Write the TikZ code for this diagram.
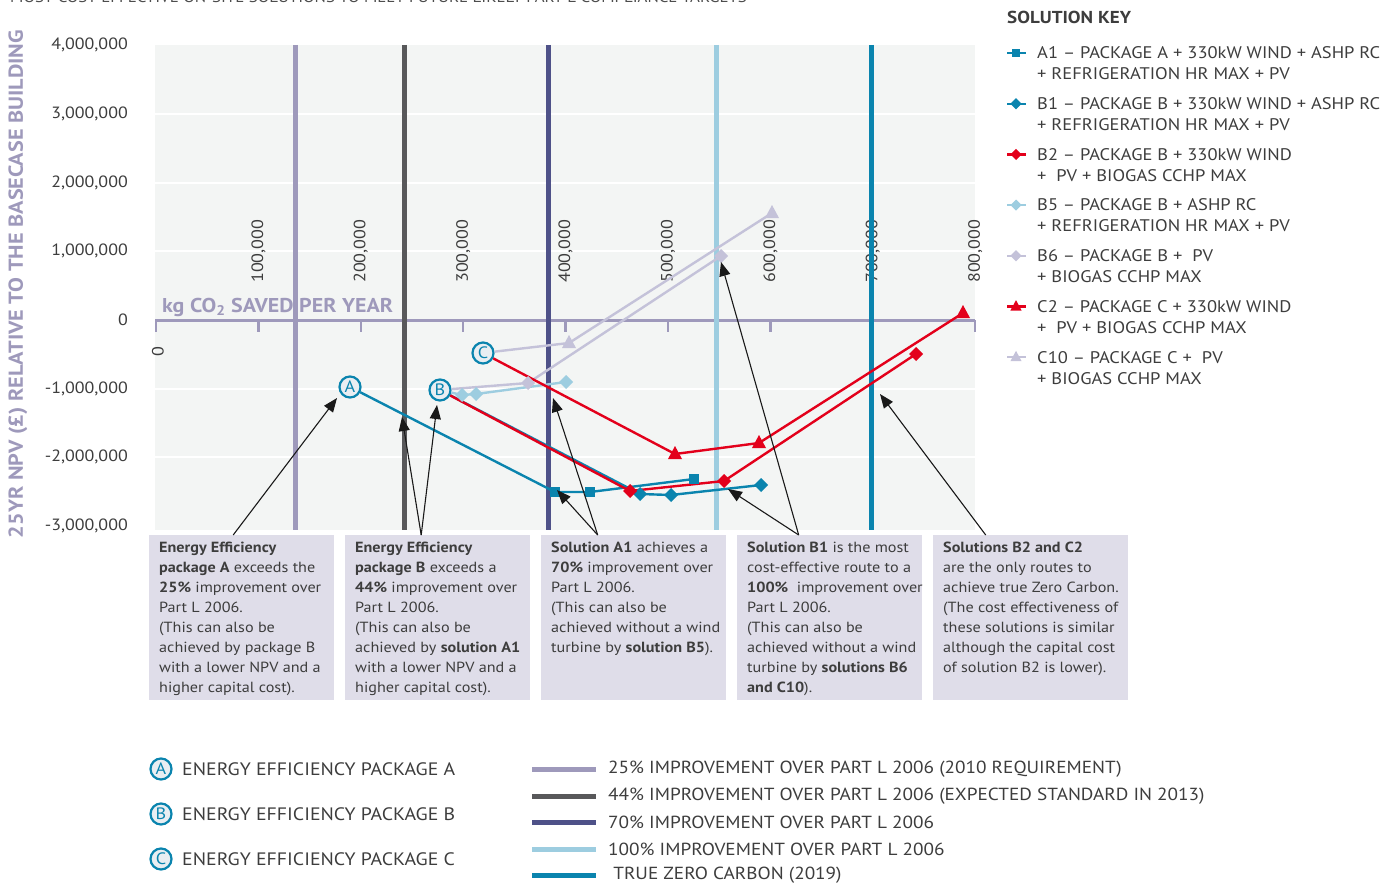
\documentclass[tikz,border=0pt]{standalone}
\usepackage{fontspec}
\setmainfont[FakeStretch=1.1]{PT Sans}
\usetikzlibrary{arrows.meta}

\definecolor{bgplot}{HTML}{F3F5F4}
\definecolor{axisgray}{HTML}{9E99BB}
\definecolor{darkline}{HTML}{58585A}
\definecolor{navyline}{HTML}{4E5188}
\definecolor{paleblue}{HTML}{9DCDE0}
\definecolor{serteal}{HTML}{0A84AE}
\definecolor{serred}{HTML}{E3001B}
\definecolor{serlav}{HTML}{C4C2D9}
\definecolor{boxfill}{HTML}{DFDDE9}
\definecolor{circfill}{HTML}{E9EEF2}
\definecolor{txtgray}{HTML}{3D3D3D}

\tikzset{
  series/.style={line width=2.4pt, line join=round},
  limit/.style={line width=5pt},
  callout/.style={black!90, line width=1.1pt, -{Triangle[length=14pt,width=11pt]}},
  notebox/.style={fill=boxfill, minimum width=185pt, minimum height=165pt, anchor=north west},
  notetext/.style={anchor=north west, align=left, font=\fontsize{14.7}{20}\selectfont},
  letter/.style={circle, draw=serteal, line width=2.2pt, fill=circfill, text=serteal,
    minimum size=21pt, inner sep=0pt, font=\fontsize{16.5}{16.5}\selectfont},
  keytext/.style={anchor=west, align=left, font=\fontsize{16.8}{21}\selectfont},
  pics/sqm/.style={code={\fill (-5,-5) rectangle (5,5);}},
  pics/dmm/.style={code={\fill (0,-7) -- (7,0) -- (0,7) -- (-7,0) -- cycle;}},
  pics/trm/.style={code={\fill (0,-8) -- (7,5) -- (-7,5) -- cycle;}}
}

\begin{document}
\begin{tikzpicture}[x=1pt,y=-1pt, every node/.style={text=txtgray, inner sep=0pt}]
  \useasboundingbox (0,0) rectangle (1392,883);

  \node[anchor=base west, font=\fontsize{15.3}{15}\selectfont, text=black!70] (title) at (10,3)
    {MOST COST-EFFECTIVE ON-SITE SOLUTIONS TO MEET FUTURE LIKELY PART L COMPLIANCE TARGETS};

  % plot area
  \fill[bgplot] (155,45) rectangle (975,530);
  \foreach \v in {-2,-1,1,2,3}
    \draw[white, line width=2pt] (155,320-68.7*\v) -- (975,320-68.7*\v);

  % y labels
  \foreach \v/\lab in {4/{4,000,000},3/{3,000,000},2/{2,000,000},1/{1,000,000},0/{0},
                       -1/{-1,000,000},-2/{-2,000,000},-3/{-3,000,000}}
    \node[anchor=east, font=\fontsize{16.3}{17}\selectfont] (yl\v) at (128,320-68.7*\v) {\lab};
  \node[rotate=90, text=axisgray, font=\bfseries\fontsize{20.2}{20}\selectfont] (ytitle) at (18,284)
    {25YR NPV (£) RELATIVE TO THE BASECASE BUILDING};

  % x labels
  \foreach \i in {1,...,8}
    \node[rotate=90, anchor=west, font=\fontsize{16.4}{16}\selectfont] (xl\i) at (156+102.4*\i,283) {\i00,000};
  \node[rotate=90, font=\fontsize{16.4}{16}\selectfont] (xl0) at (158,352) {0};
  \node[anchor=base west, text=axisgray, font=\bfseries\fontsize{20}{20}\selectfont] (xtitle) at (162,312)
    {kg CO\textsubscript{2} SAVED PER YEAR};

  % axis and ticks
  \draw[axisgray, line width=3pt] (155,320) -- (975,320);
  \foreach \i in {0,...,8}
    \draw[axisgray, line width=2.5pt] (156+102.4*\i,320) -- ++(0,12);

  % target lines
  \draw[limit, axisgray] (295,45) -- (295,530);
  \draw[limit, darkline] (404,45) -- (404,530);
  \draw[limit, navyline] (548,45) -- (548,530);
  \draw[limit, paleblue] (716,45) -- (716,530);
  \draw[limit, serteal] (871,45) -- (871,530);

  % packages
  \node[letter] (A) at (350,387) {A};
  \node[letter] (B) at (440,390) {B};
  \node[letter] (C) at (483,353) {C};

  % data points
  \coordinate (a1p1) at (555,492); \coordinate (a1p2) at (590,492); \coordinate (a1p3) at (694,479);
  \coordinate (b1p1) at (640,494); \coordinate (b1p2) at (671,495); \coordinate (b1p3) at (761,485);
  \coordinate (b2p1) at (630,491); \coordinate (b2p2) at (724,481); \coordinate (b2p3) at (916,354);
  \coordinate (b5p1) at (462,395); \coordinate (b5p2) at (476,394); \coordinate (b5p3) at (566,382);
  \coordinate (b6p1) at (528,383); \coordinate (b6p2) at (721,256);
  \coordinate (c2p1) at (675,454); \coordinate (c2p2) at (759,443); \coordinate (c2p3) at (963,313);
  \coordinate (c10p1) at (569,343); \coordinate (c10p2) at (772,213);

  % series
  \draw[series, serlav] (C) -- (c10p1) -- (c10p2);
  \draw[series, serlav] (B) -- (b6p1) -- (b6p2);
  \draw[series, paleblue] (B) -- (b5p1) -- (b5p2) -- (b5p3);
  \draw[series, serteal] (B) -- (b1p1) -- (b1p2) -- (b1p3);
  \draw[series, serteal] (A) -- (a1p1) -- (a1p2) -- (a1p3);
  \draw[series, serred] (B) -- (b2p1) -- (b2p2) -- (b2p3);
  \draw[series, serred] (C) -- (c2p1) -- (c2p2) -- (c2p3);
  \foreach \p in {c10p1,c10p2} \pic[serlav] at (\p) {trm};
  \foreach \p in {b6p1,b6p2} \pic[serlav] at (\p) {dmm};
  \foreach \p in {b5p1,b5p2,b5p3} \pic[paleblue] at (\p) {dmm};
  \foreach \p in {b1p1,b1p2,b1p3} \pic[serteal] at (\p) {dmm};
  \foreach \p in {a1p1,a1p2,a1p3} \pic[serteal] at (\p) {sqm};
  \foreach \p in {b2p1,b2p2,b2p3} \pic[serred] at (\p) {dmm};
  \foreach \p in {c2p1,c2p2,c2p3} \pic[serred] at (\p) {trm};

  % notes
  \node[notebox] (box1) at (149,535) {};
  \node[notebox] (box2) at (345,535) {};
  \node[notebox] (box3) at (541,535) {};
  \node[notebox] (box4) at (737,535) {};
  \node[notebox, minimum width=195pt] (box5) at (933,535) {};
  \node[notetext] (note1) at (159,542) {\textbf{Energy Efficiency}\\ \textbf{package A} exceeds the\\
    \textbf{25\%} improvement over\\ Part L 2006.\\ (This can also be\\ achieved by package B\\
    with a lower NPV and a\\ higher capital cost).};
  \node[notetext] (note2) at (355,542) {\textbf{Energy Efficiency}\\ \textbf{package B} exceeds a\\
    \textbf{44\%} improvement over\\ Part L 2006.\\ (This can also be\\ achieved by \textbf{solution A1}\\
    with a lower NPV and a\\ higher capital cost).};
  \node[notetext] (note3) at (551,542) {\textbf{Solution A1} achieves a\\ \textbf{70\%} improvement over\\
    Part L 2006.\\ (This can also be\\ achieved without a wind\\ turbine by \textbf{solution B5}).};
  \node[notetext] (note4) at (747,542) {\textbf{Solution B1} is the most\\ cost-effective route to a\\
    \textbf{100\%}\ \ improvement over\\ Part L 2006.\\ (This can also be\\ achieved without a wind\\
    turbine by \textbf{solutions B6}\\ \textbf{and C10}).};
  \node[notetext] (note5) at (943,542) {\textbf{Solutions B2 and C2}\\ are the only routes to\\
    achieve true Zero Carbon.\\ (The cost effectiveness of\\ these solutions is similar\\
    although the capital cost\\ of solution B2 is lower).};

  % callouts
  \coordinate (tA) at (337,398);
  \coordinate (t44) at (402,417);
  \coordinate (tB) at (437,405);
  \coordinate (t70) at (553,398);
  \coordinate (tA1) at (557,490);
  \coordinate (tB6) at (721,262);
  \coordinate (tB1) at (728,489);
  \coordinate (tZero) at (880,394);
  \draw[callout] ([xshift=-8.5pt]box1.north) -- (tA);
  \draw[callout] ([xshift=-16.5pt]box2.north) -- (t44);
  \draw[callout] ([xshift=-16.5pt]box2.north) -- (tB);
  \draw[callout] ([xshift=-36pt]box3.north) -- (t70);
  \draw[callout] ([xshift=-36pt]box3.north) -- (tA1);
  \draw[callout] ([xshift=-31pt]box4.north) -- (tB6);
  \draw[callout] ([xshift=-31pt]box4.north) -- (tB1);
  \draw[callout] ([xshift=-45pt]box5.north) -- (tZero);

  % solution key
  \node[anchor=base west, font=\bfseries\fontsize{17.3}{17}\selectfont] (keytitle) at (1007,24) {SOLUTION KEY};
  \foreach \k/\c/\m/\txt [count=\n from 0] in {
      A1/serteal/sqm/{A1 -- PACKAGE A + 330kW WIND + ASHP RC\\+ REFRIGERATION HR MAX + PV},
      B1/serteal/dmm/{B1 -- PACKAGE B + 330kW WIND + ASHP RC\\+ REFRIGERATION HR MAX + PV},
      B2/serred/dmm/{B2 -- PACKAGE B + 330kW WIND\\+\ \ PV + BIOGAS CCHP MAX},
      B5/paleblue/dmm/{B5 -- PACKAGE B + ASHP RC\\+ REFRIGERATION HR MAX + PV},
      B6/serlav/dmm/{B6 -- PACKAGE B +\ \ PV\\+ BIOGAS CCHP MAX},
      C2/serred/trm/{C2 -- PACKAGE C + 330kW WIND\\+\ \ PV + BIOGAS CCHP MAX},
      C10/serlav/trm/{C10 -- PACKAGE C +\ \ PV\\+ BIOGAS CCHP MAX}} {
    \draw[\c, line width=2.4pt] (1007,53+50.7*\n) -- (1026,53+50.7*\n);
    \pic[\c, scale=0.8] at (1016,53+50.7*\n) {\m};
    \node[keytext] (key\k) at (1037,63.5+50.7*\n) {\txt};
  }

  % bottom legend
  \node[letter] (la) at (161,769) {A};
  \node[letter] (lb) at (161,814) {B};
  \node[letter] (lc) at (161,859) {C};
  \node[keytext, anchor=west, font=\fontsize{18}{21}\selectfont] (lat) at (182,769) {ENERGY EFFICIENCY PACKAGE A};
  \node[keytext, anchor=west, font=\fontsize{18}{21}\selectfont] (lbt) at (182,814) {ENERGY EFFICIENCY PACKAGE B};
  \node[keytext, anchor=west, font=\fontsize{18}{21}\selectfont] (lct) at (182,859) {ENERGY EFFICIENCY PACKAGE C};
  \foreach \c/\yy/\txt in {axisgray/769/{25\% IMPROVEMENT OVER PART L 2006 (2010 REQUIREMENT)},
      darkline/796/{44\% IMPROVEMENT OVER PART L 2006 (EXPECTED STANDARD IN 2013)},
      navyline/822/{70\% IMPROVEMENT OVER PART L 2006},
      paleblue/849/{100\% IMPROVEMENT OVER PART L 2006},
      serteal/875/{\ TRUE ZERO CARBON (2019)}} {
    \draw[limit, \c] (532,\yy) -- (596,\yy);
    \node[keytext, font=\fontsize{17.5}{21}\selectfont] (lim\yy) at (608,\yy) {\txt};
  }
\end{tikzpicture}
\end{document}
